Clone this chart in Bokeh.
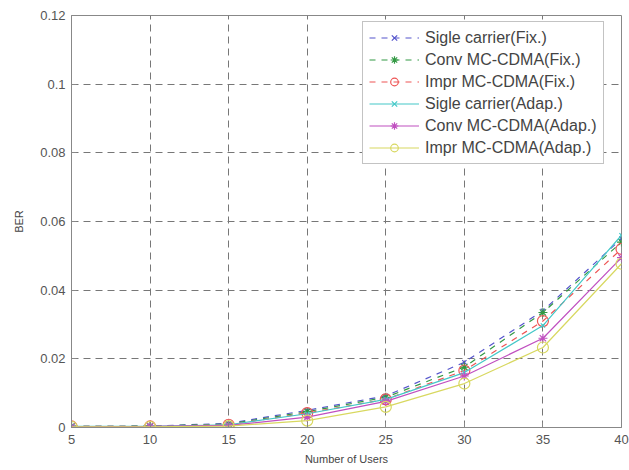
from bokeh.plotting import figure
from bokeh.models import Legend, LegendItem, NumeralTickFormatter, FixedTicker, Range1d
from bokeh.embed import file_html
from bokeh.resources import INLINE

users = [5, 10, 15, 20, 25, 30, 35, 40]
sc_fix = [0.0003, 0.0004, 0.0012, 0.0050, 0.0092, 0.0190, 0.0340, 0.0550]
conv_fix = [0.0003, 0.0004, 0.0010, 0.0046, 0.0088, 0.0176, 0.0335, 0.0540]
impr_fix = [0.0003, 0.0003, 0.0008, 0.0042, 0.0082, 0.0166, 0.0310, 0.0520]
sc_adap = [0.0003, 0.0003, 0.0008, 0.0040, 0.0082, 0.0160, 0.0297, 0.0560]
conv_adap = [0.0002, 0.0003, 0.0006, 0.0030, 0.0076, 0.0150, 0.0260, 0.0495]
impr_adap = [0.0002, 0.0002, 0.0004, 0.0020, 0.0060, 0.0128, 0.0233, 0.0477]

labels = ["Sigle carrier(Fix.)", "Conv MC-CDMA(Fix.)", "Impr MC-CDMA(Fix.)",
          "Sigle carrier(Adap.)", "Conv MC-CDMA(Adap.)", "Impr MC-CDMA(Adap.)"]
series = [sc_fix, conv_fix, impr_fix, sc_adap, conv_adap, impr_adap]
colors = ["#5555cc", "#339944", "#ee5555", "#44c8c8", "#c050c0", "#d8d860"]
dashes = ["dashed", "dashed", "dashed", "solid", "solid", "solid"]
markers = ["x", "asterisk", "circle", "x", "asterisk", "circle"]
msizes = [6, 9, 11, 6, 9, 11]

p = figure(width=629, height=470, output_backend="svg", toolbar_location=None,
           x_range=Range1d(5, 40), y_range=Range1d(0, 0.12),
           min_border_left=71, min_border_right=8, min_border_top=15, min_border_bottom=43)
p.outline_line_color = "#888888"
p.background_fill_color = "white"

items = []
for lab, ys, c, d, m, s in zip(labels, series, colors, dashes, markers, msizes):
    r1 = p.line(users, ys, line_color=c, line_dash=d, line_width=1.2)
    r2 = p.scatter(users, ys, marker=m, size=s, line_color=c, fill_color=None, line_width=1.2)
    items.append(LegendItem(label=lab, renderers=[r1, r2]))

leg = Legend(items=items, location=(291, 263), label_text_font="Liberation Sans",
             label_text_font_size="16px", label_text_color="#444444",
             glyph_width=50, glyph_height=19, label_height=19, spacing=3,
             label_standoff=6, padding=6, margin=0, border_line_color="#888888",
             background_fill_alpha=1.0)
p.add_layout(leg, "center")

for ax in (p.xaxis[0], p.yaxis[0]):
    ax.axis_line_color = "#888888"
    ax.major_tick_in = 5
    ax.major_tick_out = 0
    ax.minor_tick_line_color = None
    ax.major_tick_line_color = "#888888"
    ax.major_label_text_font = "Liberation Sans"
    ax.major_label_text_font_size = "13px"
    ax.major_label_text_color = "#555555"
    ax.axis_label_text_font = "Liberation Sans"
    ax.axis_label_text_font_size = "11px"
    ax.axis_label_text_font_style = "normal"
    ax.axis_label_text_color = "#444444"

p.xaxis.ticker = FixedTicker(ticks=[5, 10, 15, 20, 25, 30, 35, 40])
p.yaxis.ticker = FixedTicker(ticks=[0, 0.02, 0.04, 0.06, 0.08, 0.1, 0.12])
p.yaxis.formatter = NumeralTickFormatter(format="0.[00]")
p.xaxis.axis_label = "Number of Users"
p.yaxis.axis_label = "BER"
p.xaxis.major_label_standoff = 7
p.xaxis.axis_label_standoff = 6
p.yaxis.major_label_standoff = 6
p.yaxis.axis_label_standoff = 12

p.grid.grid_line_color = "#777777"
p.grid.grid_line_dash = "7 5"
p.grid.grid_line_width = 1

open("out.html", "w").write(file_html(p, INLINE))
